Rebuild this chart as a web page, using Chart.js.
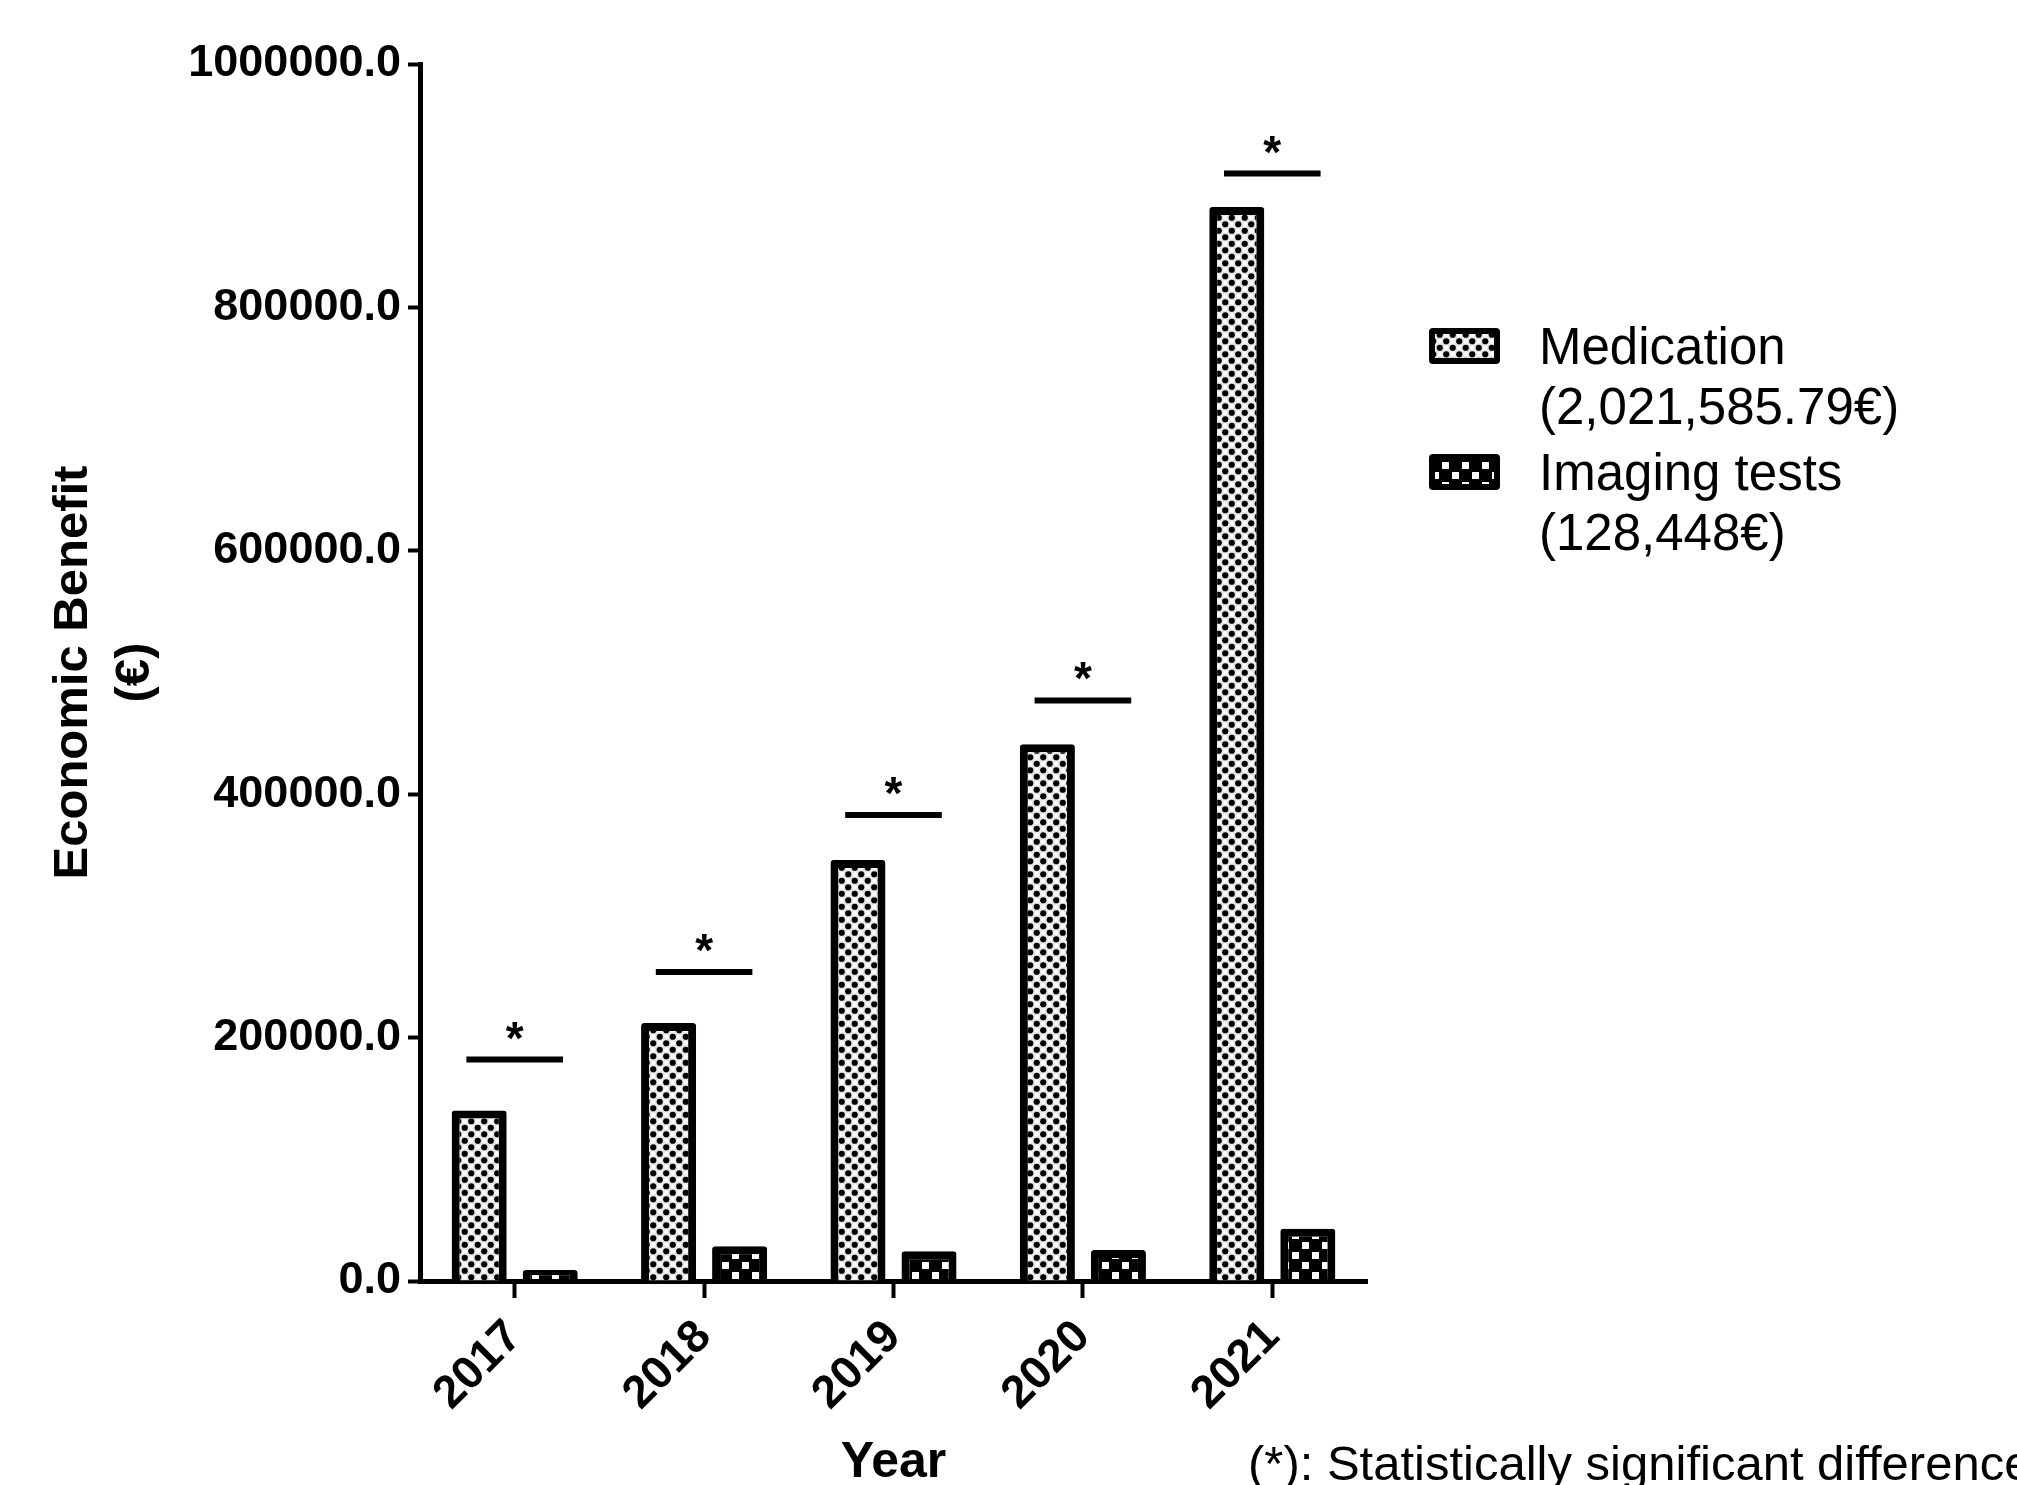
<!DOCTYPE html>
<html>
<head>
<meta charset="utf-8">
<script src="https://cdn.jsdelivr.net/npm/chart.js@4.4.1/dist/chart.umd.min.js"></script>
<style>
  body { margin: 0; background: #fff; }
</style>
</head>
<body>
<canvas id="myChart" width="2017" height="1485"></canvas>
<script>
// valores
const years = ['2017', '2018', '2019', '2020', '2021'];
const medication = [140000, 212000, 346000, 441000, 882500];
const imaging = [9000, 28500, 24500, 25500, 43000];
const sigLevel = [182000, 254000, 383000, 477000, 910000];
const legendLines = [
    ['Medication', '(2,021,585.79€)'],
    ['Imaging tests', '(128,448€)']
];
const footnote = '(*): Statistically significant difference';

const FONT = "'Liberation Sans', Arial, sans-serif";
Chart.defaults.font.family = FONT;
Chart.defaults.color = '#000';

// patron de puntos finos (Medication)
function dotPattern() {
    const c = document.createElement('canvas');
    c.width = 13; c.height = 13;
    const g = c.getContext('2d');
    g.fillStyle = '#e6e6e6';
    g.fillRect(0, 0, 13, 13);
    g.fillStyle = '#000';
    [[3.25, 3.25], [9.75, 9.75]].forEach(p => {
        g.beginPath();
        g.arc(p[0], p[1], 3.1, 0, Math.PI * 2);
        g.fill();
    });
    g.fillStyle = '#fff';
    [[9.75, 3.25], [3.25, 9.75]].forEach(p => {
        g.beginPath();
        g.arc(p[0], p[1], 2.2, 0, Math.PI * 2);
        g.fill();
    });
    return g.createPattern(c, 'repeat');
}

// patron de cuadros (Imaging tests)
function checkPattern() {
    const c = document.createElement('canvas');
    c.width = 20; c.height = 20;
    const g = c.getContext('2d');
    g.fillStyle = '#000';
    g.fillRect(0, 0, 20, 20);
    g.fillStyle = '#fff';
    g.fillRect(2, 2, 7, 7);
    g.fillRect(12, 12, 7, 7);
    return g.createPattern(c, 'repeat');
}

const dotFill = dotPattern();
const checkFill = checkPattern();

// lineas de significancia con asterisco
const sigPlugin = {
    id: 'sig',
    afterDatasetsDraw(chart) {
        const { ctx, scales: { x, y } } = chart;
        const step = x.getPixelForValue(1) - x.getPixelForValue(0);
        ctx.save();
        ctx.strokeStyle = '#000';
        ctx.lineWidth = 6;
        ctx.fillStyle = '#000';
        ctx.font = 'bold 46px ' + FONT;
        ctx.textAlign = 'center';
        ctx.textBaseline = 'alphabetic';
        sigLevel.forEach((v, i) => {
            const cx = x.getPixelForValue(i);
            const py = y.getPixelForValue(v);
            ctx.beginPath();
            ctx.moveTo(cx - step * 0.255, py);
            ctx.lineTo(cx + step * 0.255, py);
            ctx.stroke();
            ctx.fillText('*', cx, py - 6);
        });
        ctx.restore();
    }
};

// leyenda a la derecha y nota al pie
const legendPlugin = {
    id: 'sideLegend',
    afterDraw(chart) {
        const ctx = chart.ctx;
        const fills = [dotFill, checkFill];
        ctx.save();
        legendLines.forEach((lines, i) => {
            const top = 328 + i * 126;
            ctx.fillStyle = '#000';
            ctx.beginPath();
            ctx.roundRect(1429, top, 71, 36, 4);
            ctx.fill();
            ctx.fillStyle = fills[i];
            ctx.fillRect(1435, top + 6, 59, 24);
            ctx.fillStyle = '#000';
            ctx.font = '51px ' + FONT;
            ctx.textAlign = 'left';
            ctx.textBaseline = 'alphabetic';
            lines.forEach((t, j) => ctx.fillText(t, 1539, top + 36 + j * 60));
        });
        ctx.font = '49px ' + FONT;
        ctx.fillText(footnote, 1248, 1480);
        ctx.restore();
    }
};

const ctx = document.getElementById('myChart').getContext('2d');
const myChart = new Chart(ctx, {
    type: 'bar',
    data: {
        labels: years,
        datasets: [{
            label: 'Medication',
            data: medication,
            backgroundColor: dotFill,
            borderColor: '#000',
            borderWidth: 8,
            borderRadius: 3,
            categoryPercentage: 0.75,
            barPercentage: 0.775
        }, {
            label: 'Imaging tests',
            data: imaging,
            backgroundColor: checkFill,
            borderColor: '#000',
            borderWidth: 8,
            borderRadius: 3,
            categoryPercentage: 0.75,
            barPercentage: 0.775
        }]
    },
    options: {
        responsive: false,
        animation: false,
        devicePixelRatio: 1,
        layout: { padding: { top: 64, right: 650, bottom: 0, left: 0 } },
        plugins: {
            legend: { display: false },
            tooltip: { enabled: false }
        },
        scales: {
            x: {
                grid: { offset: false, drawOnChartArea: false, tickLength: 17, tickWidth: 4, tickColor: '#000' },
                border: { color: '#000', width: 5 },
                ticks: { maxRotation: 45, minRotation: 45, padding: 12, font: { size: 46, weight: 'bold' } },
                title: { display: true, text: 'Year', font: { size: 50, weight: 'bold' }, padding: { top: 0, bottom: -8 } },
                afterFit(s) { s.height = 204; }
            },
            y: {
                min: 0,
                max: 1000000,
                ticks: { stepSize: 200000, padding: 7, font: { size: 45, weight: 'bold' },
                    callback: v => v.toFixed(1) },
                grid: { drawOnChartArea: false, tickLength: 12, tickWidth: 4, tickColor: '#000' },
                border: { color: '#000', width: 5 },
                title: { display: true, text: ['Economic Benefit', '(€)'],
                    font: { size: 49, weight: 'bold', lineHeight: 1.27 }, padding: { top: 42, bottom: 0 } },
                afterFit(s) { s.width = 420; }
            }
        }
    },
    plugins: [sigPlugin, legendPlugin]
});
</script>
</body>
</html>
